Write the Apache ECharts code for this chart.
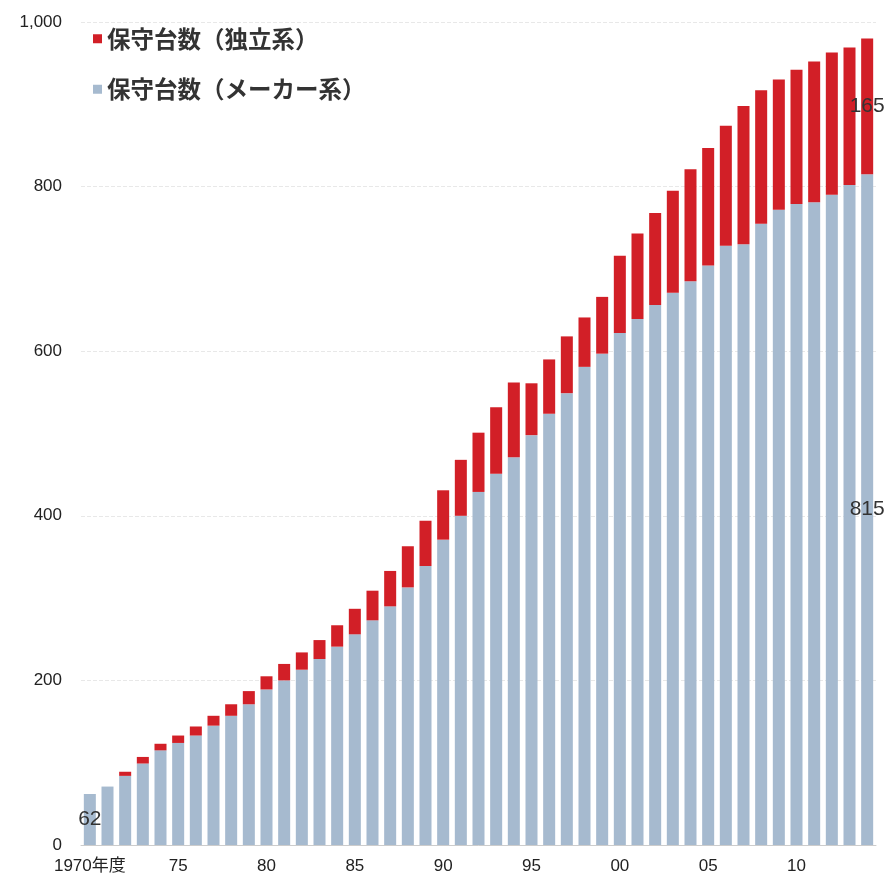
<!DOCTYPE html>
<html><head><meta charset="utf-8">
<script src="https://cdn.jsdelivr.net/npm/echarts@6/dist/echarts.min.js"></script>
<style>html,body{margin:0;padding:0;background:#fff}#c{width:887px;height:879px}</style>
</head><body><div id="c"></div>
<script>
const years = [];
for (let y = 1970; y <= 2014; y++) years.push(String(y));
const tickLabels = {1970:'1970年度',1975:'75',1980:'80',1985:'85',1990:'90',1995:'95',2000:'00',2005:'05',2010:'10'};
const makerSeries = [62,71,84,99,115,124,133,145,157,171,189,200,213,226,241,256,273,290,313,339,371,400,429,451,471,498,524,549,581,597,622,639,656,671,685,704,728,730,755,772,779,781,790,802,815];
const indepSeries = [0,0,5,8,8,9,11,12,14,16,16,20,21,23,26,31,36,43,50,55,60,68,72,81,91,63,66,69,60,69,94,104,112,124,136,143,146,168,162,158,163,171,173,167,165];
const yTicks = [0,200,400,600,800,1000];
const labelIdxMaker = [0, 44];
const labelIdxIndep = [44];

const chart = echarts.init(document.getElementById('c'));
const lbl = {show:true, position:'inside', color:'#333', fontSize:21, fontFamily:'Liberation Sans, Arial, sans-serif'};
chart.setOption({
  animation:false,
  legend:{
    left:88, top:22, orient:'vertical', itemGap:27, itemWidth:9, itemHeight:9,
    icon:'rect',
    textStyle:{fontSize:23.5, fontWeight:'bold', color:'#333', fontFamily:'Noto Sans CJK JP'},
    data:['保守台数（独立系）','保守台数（メーカー系）']
  },
  grid:{left:81, right:11, top:22, bottom:34},
  xAxis:{
    type:'category', data:years,
    axisLine:{lineStyle:{color:'#ccc'}},
    axisTick:{show:false},
    axisLabel:{interval:0, margin:13, fontSize:17, color:'#222', fontFamily:'Liberation Sans, Noto Sans CJK JP, sans-serif',
      formatter:v => tickLabels[v] || ''}
  },
  yAxis:{
    type:'value', min:0, max:1000, interval:200,
    axisLine:{show:false}, axisTick:{show:false},
    axisLabel:{fontSize:17, color:'#222', margin:19, fontFamily:'Liberation Sans, Arial, sans-serif',
      formatter:v => yTicks.includes(v) ? v.toLocaleString('en-US') : ''},
    splitLine:{lineStyle:{color:'#e8e8e8', type:'dashed'}}
  },
  series:[
    {name:'保守台数（メーカー系）', type:'bar', stack:'t', barCategoryGap:'32%',
     itemStyle:{color:'#a6bacf'},
     data:makerSeries.map((v,i)=>({value:v, label: labelIdxMaker.includes(i) ? lbl : {show:false}}))},
    {name:'保守台数（独立系）', type:'bar', stack:'t',
     itemStyle:{color:'#d21f27'},
     data:indepSeries.map((v,i)=>({value:v, label: labelIdxIndep.includes(i) ? lbl : {show:false}}))}
  ]
});
</script></body></html>
